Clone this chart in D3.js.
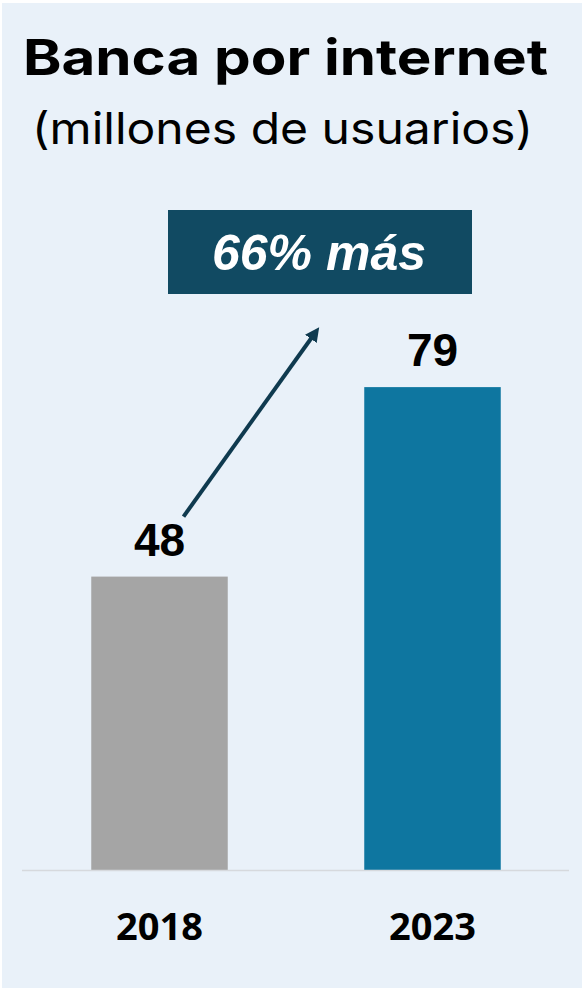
<!DOCTYPE html>
<html>
<head>
<meta charset="utf-8">
<script src="https://cdn.jsdelivr.net/npm/d3@7"></script>
<style>
  html, body { margin: 0; padding: 0; background: #fff; }
  svg text { font-family: Inter, "Liberation Sans", sans-serif; }
</style>
</head>
<body>
<script>
// data
const years = ["2018", "2023"];
const users = [48, 79];
const barColors = ["#a5a5a5", "#0e76a0"];
const title = "Banca por internet";
const subtitle = "(millones de usuarios)";
const callout = "66% más";

const width = 582, height = 988;

const svg = d3.select("body").append("svg")
  .attr("width", width)
  .attr("height", height);

// panel
svg.append("rect")
  .attr("x", 2).attr("y", 3)
  .attr("width", width - 2).attr("height", height - 3)
  .attr("fill", "#e9f1f9");

const x = d3.scaleBand()
  .domain(years)
  .range([23, 569])
  .paddingInner(0.5)
  .paddingOuter(0.25);

const y = d3.scaleLinear()
  .domain([0, 80])
  .range([870, 381]);

// headings
svg.append("text")
  .attr("x", 23).attr("y", 75)
  .attr("font-size", 50)
  .attr("font-weight", 700)
  .attr("textLength", 525)
  .attr("lengthAdjust", "spacingAndGlyphs")
  .attr("fill", "#000")
  .text(title);

svg.append("text")
  .attr("x", 32).attr("y", 144)
  .attr("font-size", 44)
  .attr("font-weight", 400)
  .attr("textLength", 501)
  .attr("lengthAdjust", "spacingAndGlyphs")
  .attr("fill", "#000")
  .text(subtitle);

// bars
const data = years.map((d, i) => ({ year: d, value: users[i], color: barColors[i] }));

svg.selectAll(".bar")
  .data(data)
  .enter().append("rect")
    .attr("class", "bar")
    .attr("x", d => x(d.year))
    .attr("y", d => y(d.value))
    .attr("width", x.bandwidth())
    .attr("height", d => y(0) - y(d.value))
    .attr("fill", d => d.color);

// baseline
svg.append("line")
  .attr("x1", 22).attr("x2", 569)
  .attr("y1", y(0) + 0.5).attr("y2", y(0) + 0.5)
  .attr("stroke", "#d6d9dd")
  .attr("stroke-width", 1.5);

// value labels
svg.selectAll(".val")
  .data(data)
  .enter().append("text")
    .attr("class", "val")
    .attr("x", d => x(d.year) + x.bandwidth() / 2)
    .attr("y", d => y(d.value) - 21)
    .attr("text-anchor", "middle")
    .style("font-family", "'Liberation Sans', Arial, sans-serif")
    .attr("font-size", 46)
    .attr("font-weight", 700)
    .attr("fill", "#000")
    .text(d => d.value);

// year labels
svg.selectAll(".yr")
  .data(data)
  .enter().append("text")
    .attr("class", "yr")
    .attr("x", d => x(d.year) + x.bandwidth() / 2)
    .attr("y", 940)
    .attr("text-anchor", "middle")
    .style("font-family", "'Noto Sans', sans-serif")
    .attr("font-size", 38)
    .attr("font-weight", 700)
    .attr("fill", "#000")
    .text(d => d.year);

// callout box
const box = svg.append("g").attr("transform", "translate(168,210)");
box.append("rect")
  .attr("width", 304).attr("height", 84)
  .attr("fill", "#114a62");
box.append("text")
  .attr("x", 151).attr("y", 60)
  .attr("text-anchor", "middle")
  .style("font-family", "'Liberation Sans', Arial, sans-serif")
  .attr("font-size", 50)
  .attr("font-weight", 700)
  .attr("font-style", "italic")
  .attr("fill", "#fff")
  .text(callout);

// arrow from first label to callout
const defs = svg.append("defs");
defs.append("marker")
  .attr("id", "arrowhead")
  .attr("viewBox", "0 0 10 10")
  .attr("refX", 5).attr("refY", 5)
  .attr("markerWidth", 3.6).attr("markerHeight", 3.6)
  .attr("orient", "auto")
  .append("path")
    .attr("d", "M0,0 L10,5 L0,10 z")
    .attr("fill", "#0f3a4f");

const x0 = x(years[0]) + x.bandwidth() / 2;
svg.append("line")
  .attr("x1", x0 + 24).attr("y1", y(users[0]) - 60)
  .attr("x2", 315).attr("y2", 333)
  .attr("stroke", "#0f3a4f")
  .attr("stroke-width", 4)
  .attr("marker-end", "url(#arrowhead)");
</script>
</body>
</html>
